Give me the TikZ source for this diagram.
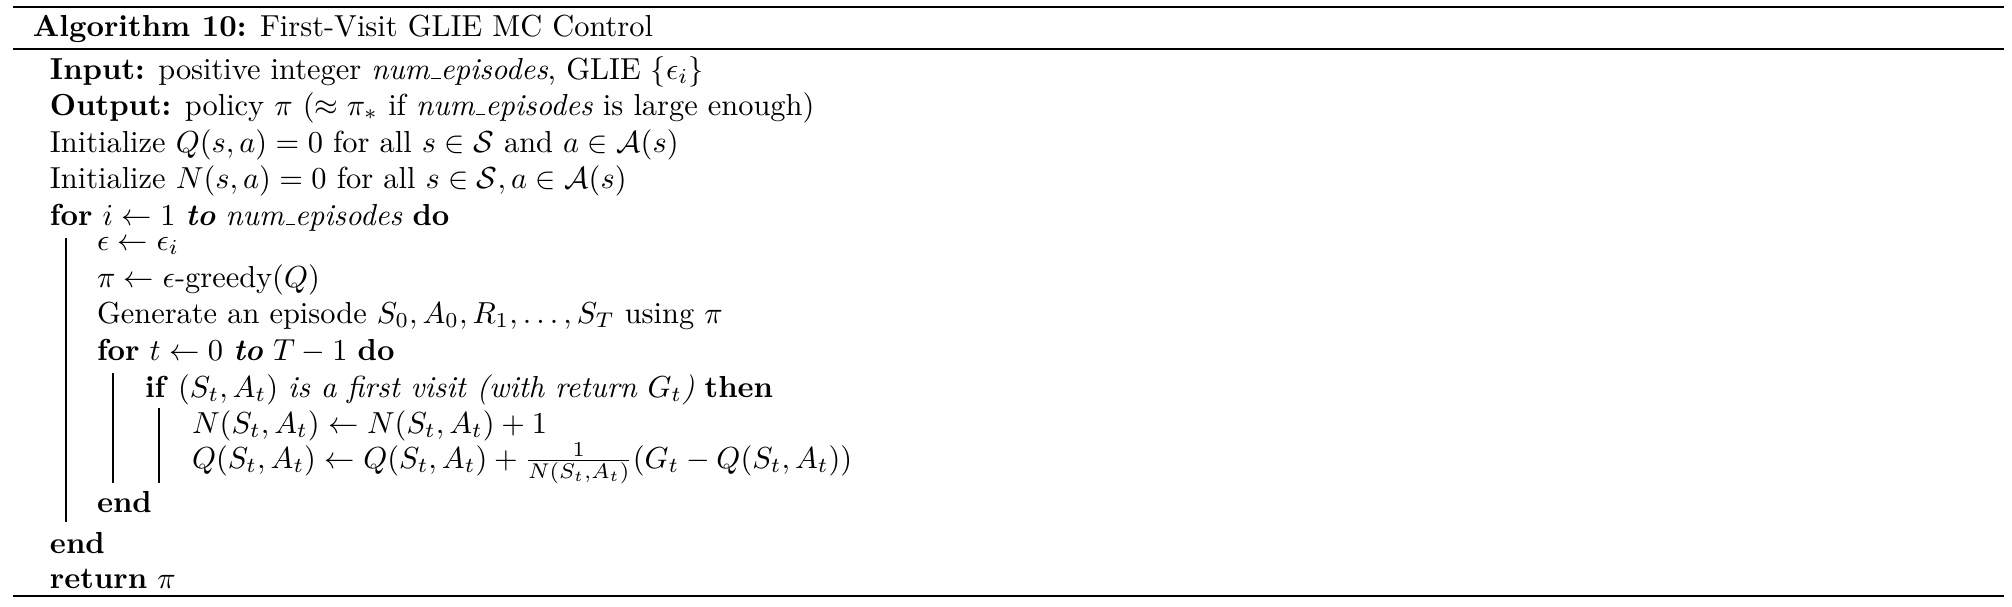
\documentclass[tikz,border=0pt]{standalone}
\usepackage{amsmath}
\newcommand\lowusc{\leavevmode\kern.06em\vbox{\hrule width.3em}}
\begin{document}
\begin{tikzpicture}[x=0.329pt, y=-0.329pt,
  line/.style={anchor=base west, inner sep=0pt, outer sep=0pt, font=\fontsize{10pt}{12pt}\selectfont},
  rulel/.style={line width=0.75pt},
  bar/.style={line width=0.4pt}]
\useasboundingbox (0,0) rectangle (2012,606);
% rules
\coordinate (r1l) at (13,7);   \coordinate (r1r) at (2004,7);
\coordinate (r2l) at (13,49);  \coordinate (r2r) at (2004,49);
\coordinate (r3l) at (13,596); \coordinate (r3r) at (2004,596);
\draw[rulel] (r1l) -- (r1r);
\draw[rulel] (r2l) -- (r2r);
\draw[rulel] (r3l) -- (r3r);
% text lines
\node[line] (title) at (33,36) {\textbf{Algorithm 10:} First-Visit GLIE MC Control};
\node[line] (inp) at (50,79) {\textbf{Input:} positive integer \textit{num\lowusc episodes}, GLIE $\{\epsilon_i\}$};
\node[line] (outp) at (50,115) {\textbf{Output:} policy $\pi$ ($\approx \pi_*$ if \textit{num\lowusc episodes} is large enough)};
\node[line] (initq) at (50,152) {Initialize $Q(s,a)=0$ for all $s\in\mathcal{S}$ and $a\in\mathcal{A}(s)$};
\node[line] (initn) at (50,188) {Initialize $N(s,a)=0$ for all $s\in\mathcal{S}, a\in\mathcal{A}(s)$};
\node[line] (fori) at (50,225) {\textbf{for} $i\leftarrow 1$ \textbf{\textit{to}} \textit{num\lowusc episodes} \textbf{do}};
\node[line] (eps) at (97,250) {$\epsilon\leftarrow\epsilon_i$};
\node[line] (pi) at (97,287) {$\pi\leftarrow\epsilon$-greedy$(Q)$};
\node[line] (gen) at (97,323) {Generate an episode $S_0, A_0, R_1, \ldots, S_T$ using $\pi$};
\node[line] (fort) at (97,360) {\textbf{for} $t\leftarrow 0$ \textbf{\textit{to}} $T-1$ \textbf{do}};
\node[line] (ifl) at (145,397) {\textbf{if} $(S_t,A_t)$ \textit{is a first visit (with return $G_t$)} \textbf{then}};
\node[line] (nup) at (192,433) {$N(S_t,A_t)\leftarrow N(S_t,A_t)+1$};
\node[line] (qup) at (192,468) {$Q(S_t,A_t)\leftarrow Q(S_t,A_t)+\frac{1}{N(S_t,A_t)}(G_t-Q(S_t,A_t))$};
\node[line] (end2) at (97,512) {\textbf{end}};
\node[line] (end1) at (50,553) {\textbf{end}};
\node[line] (ret) at (50,588) {\textbf{return} $\pi$};
% block bars
\coordinate (b1t) at (66,238); \coordinate (b1b) at (66,522);
\coordinate (b2t) at (113,373); \coordinate (b2b) at (113,483);
\coordinate (b3t) at (159,408); \coordinate (b3b) at (159,483);
\draw[bar] (b1t) -- (b1b);
\draw[bar] (b2t) -- (b2b);
\draw[bar] (b3t) -- (b3b);
\end{tikzpicture}
\end{document}
